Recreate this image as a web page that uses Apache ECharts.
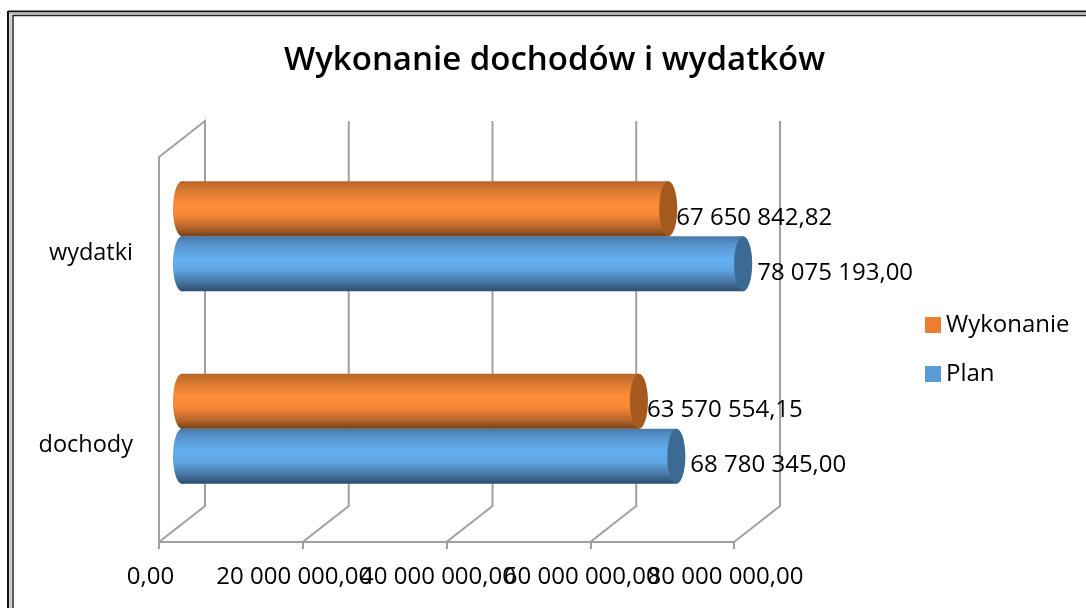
<!DOCTYPE html>
<html><head><meta charset="utf-8">
<style>html,body{margin:0;padding:0;background:#fff}#c{width:1086px;height:608px}</style>
<script src="https://cdn.jsdelivr.net/npm/echarts@6/dist/echarts.min.js"></script>
</head><body><div id="c"></div>
<script>
const categories = ['dochody', 'wydatki'];
const planValues = [68780345.00, 78075193.00];
const wykonanieValues = [63570554.15, 67650842.82];
const axisTicks = [0, 20000000, 40000000, 60000000, 80000000];
const titleText = 'Wykonanie dochodów i wydatków';
const FONT = 'Open Sans';
const DEPTH_X = 46, DEPTH_Y = -36;

function fmt(v) {
  const p = v.toFixed(2).split('.');
  return p[0].replace(/\B(?=(\d{3})+(?!\d))/g, ' ') + ',' + p[1];
}
function grad(stops) {
  return { type: 'linear', x: 0, y: 0, x2: 0, y2: 1,
    colorStops: stops.map(s => ({ offset: s[0], color: s[1] })) };
}
const orangeGrad = grad([[0,'#B8642A'],[0.12,'#D0742F'],[0.4,'#FF8C38'],[0.6,'#F98835'],[0.85,'#B5642A'],[1,'#74401A']]);
const blueGrad = grad([[0,'#4578A8'],[0.12,'#5690C8'],[0.4,'#64AEF0'],[0.6,'#5FA6E4'],[0.85,'#44729E'],[1,'#2C4C6C']]);

function cylinder(fill, cap, side, labelGap) {
  return function (params, api) {
    const val = api.value(0), cat = api.value(1);
    const end = api.coord([val, cat]), start = api.coord([0, cat]);
    const band = api.size([0, 1])[1];
    const h = band * 0.286;
    const yc = end[1] + DEPTH_Y / 2 + 1 + side * h / 2;
    const x0 = start[0] + DEPTH_X / 2, x1 = end[0] + DEPTH_X / 2;
    const rx = 9;
    return { type: 'group', children: [
      { type: 'ellipse', shape: { cx: x0, cy: yc, rx: rx, ry: h / 2 }, style: { fill: fill } },
      { type: 'rect', shape: { x: x0, y: yc - h / 2, width: x1 - x0, height: h }, style: { fill: fill } },
      { type: 'ellipse', shape: { cx: x1, cy: yc, rx: rx, ry: h / 2 }, style: { fill: cap } },
      { type: 'text', style: { x: x1 + labelGap, y: yc + 9, text: fmt(val), fill: '#000',
          font: '24px "' + FONT + '"', textAlign: 'left', textVerticalAlign: 'middle' } }
    ] };
  };
}
function walls(params, api) {
  const v = api.value(0), bot = api.coord([v, 0]);
  const cs = params.coordSys;
  const x = bot[0], yb = cs.y + cs.height, yt = cs.y;
  const st = { stroke: '#A0A0A0', lineWidth: 2, fill: null };
  const pts = [[x, yb], [x + DEPTH_X, yb + DEPTH_Y], [x + DEPTH_X, yt + DEPTH_Y]];
  if (v === 0) pts.push([x, yt]);
  return { type: 'polyline', shape: { points: pts }, style: st };
}
const xTickStyle = { show: true, length: 7, lineStyle: { color: '#A0A0A0', width: 2 } };
const xLabelStyle = { formatter: v => fmt(v), hideOverlap: false, margin: 23, padding: [0, 17, 0, 0],
  fontFamily: FONT, fontSize: 24, color: '#000' };
const chart = echarts.init(document.getElementById('c'));
chart.setOption({
  animation: false,
  backgroundColor: '#fff',
  title: { text: titleText, left: 279, top: 39,
    textStyle: { fontFamily: FONT, fontSize: 33, fontWeight: 600, color: '#000' } },
  legend: { data: ['Wykonanie', 'Plan'], orient: 'vertical', left: 920, top: 308, icon: 'rect',
    itemWidth: 16, itemHeight: 16, itemGap: 25,
    textStyle: { fontFamily: FONT, fontSize: 24, color: '#000' } },
  grid: { left: 159, top: 157, width: 575, height: 385 },
  xAxis: [
    { type: 'value', position: 'bottom', min: 0, max: 80000000, interval: 20000000,
      splitLine: { show: false },
      axisLine: { show: true, lineStyle: { color: '#A0A0A0', width: 2 } },
      axisTick: xTickStyle,
      axisLabel: Object.assign({}, xLabelStyle, { showMinLabel: true, showMaxLabel: true }) },
    { type: 'value', position: 'bottom', min: 0, max: 80000000, interval: 20000000,
      splitLine: { show: false }, axisLine: { show: false },
      axisTick: Object.assign({}, xTickStyle, { customValues: [axisTicks[3]] }),
      axisLabel: Object.assign({}, xLabelStyle, { customValues: [axisTicks[3]] }) }
  ],
  yAxis: { type: 'category', data: categories,
    axisLine: { show: true, lineStyle: { color: '#A0A0A0', width: 2 } },
    axisTick: { show: false },
    axisLabel: { margin: 26, padding: [6, 0, 0, 0], fontFamily: FONT, fontSize: 23.5, color: '#000' } },
  series: [
    { type: 'custom', name: 'walls', silent: true, z: 1, renderItem: walls,
      data: axisTicks.map(t => [t, 0]), encode: { x: 0, y: 1 } },
    { type: 'custom', name: 'Plan', z: 2, itemStyle: { color: '#5B9BD5' },
      renderItem: cylinder(blueGrad, '#3B6A94', 1, 14),
      data: planValues.map((v, i) => [v, i]), encode: { x: 0, y: 1 } },
    { type: 'custom', name: 'Wykonanie', z: 3, itemStyle: { color: '#ED7D31' },
      renderItem: cylinder(orangeGrad, '#A4591F', -1, 8),
      data: wykonanieValues.map((v, i) => [v, i]), encode: { x: 0, y: 1 } }
  ],
  graphic: [
    { type: 'line', shape: { x1: 8, y1: 11.5, x2: 1086, y2: 11.5 }, style: { stroke: '#111', lineWidth: 2 } },
    { type: 'line', shape: { x1: 10, y1: 13.5, x2: 1086, y2: 13.5 }, style: { stroke: '#BBB', lineWidth: 2 } },
    { type: 'line', shape: { x1: 13, y1: 15.5, x2: 1086, y2: 15.5 }, style: { stroke: '#222', lineWidth: 1.5 } },
    { type: 'line', shape: { x1: 8, y1: 11, x2: 8, y2: 608 }, style: { stroke: '#111', lineWidth: 2 } },
    { type: 'line', shape: { x1: 10.5, y1: 13, x2: 10.5, y2: 608 }, style: { stroke: '#BBB', lineWidth: 2 } },
    { type: 'line', shape: { x1: 13, y1: 15, x2: 13, y2: 608 }, style: { stroke: '#222', lineWidth: 1.5 } }
  ]
});
</script></body></html>
